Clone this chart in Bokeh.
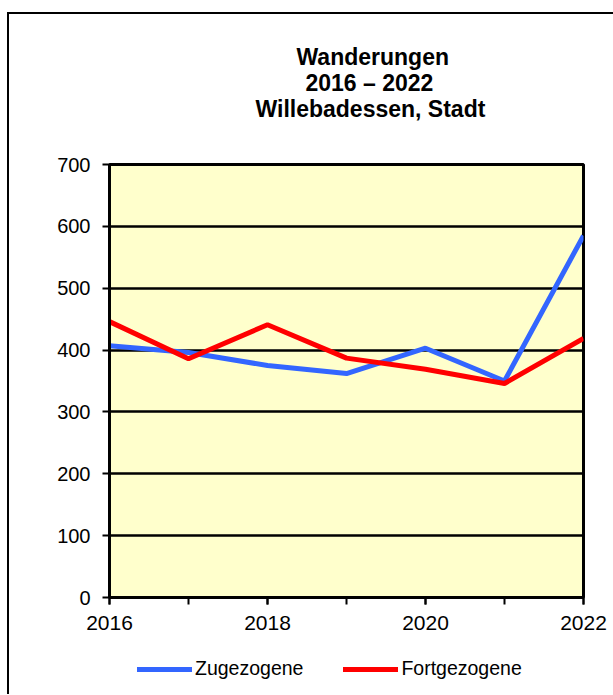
from bokeh.plotting import figure
from bokeh.layouts import column
from bokeh.models import Title, Legend, LegendItem, FixedTicker, Range1d
from bokeh.embed import file_html
from bokeh.resources import INLINE

# ---- data ----
years = [2016, 2017, 2018, 2019, 2020, 2021, 2022]
zugezogene = [407, 396, 375, 362, 403, 350, 585]
fortgezogene = [446, 386, 441, 387, 369, 346, 419]
x_label_ticks = [2016, 2018, 2020, 2022]
y_ticks = [0, 100, 200, 300, 400, 500, 600, 700]
series_names = ["Zugezogene", "Fortgezogene"]
title_lines = ["Wanderungen", "2016 – 2022", "Willebadessen, Stadt"]

FONT = "Liberation Sans"
BLUE = "#3366FF"
RED = "#FF0000"

p = figure(width=604, height=630, output_backend="svg", toolbar_location=None,
           x_range=Range1d(2016, 2022), y_range=Range1d(0, 700),
           min_border_left=100, min_border_right=30, min_border_top=150,
           min_border_bottom=47,
           background_fill_color="#FFFFCC", border_fill_color="white")

# ---- titles (stack outward from the frame: spacer, line3, line2, line1) ----
spacer = Title(text=" ", text_font_size="22px", standoff=17)
p.add_layout(spacer, "above")
t3 = Title(text=title_lines[2], offset=146)
p.add_layout(t3, "above")
t2 = Title(text=title_lines[1], offset=196)
p.add_layout(t2, "above")
p.title.text = title_lines[0]
p.title.offset = 187
for t in [t3, t2, p.title]:
    t.align = "left"
    t.text_font = FONT
    t.text_font_size = "23px"
    t.text_font_style = "bold"
    t.text_color = "black"
    t.standoff = -2.5

p.outline_line_color = "black"
p.outline_line_width = 3

# ---- axes ----
p.yaxis.ticker = FixedTicker(ticks=y_ticks)
p.yaxis.axis_line_width = 3
p.yaxis.axis_line_color = "black"
p.yaxis.major_tick_out = 7
p.yaxis.major_tick_in = 0
p.yaxis.major_tick_line_width = 2
p.yaxis.major_tick_line_color = "black"
p.yaxis.minor_tick_line_color = None
p.yaxis.major_label_standoff = 12
p.yaxis.major_label_text_font = FONT
p.yaxis.major_label_text_font_size = "20px"
p.yaxis.major_label_text_color = "black"

p.xaxis.ticker = FixedTicker(ticks=x_label_ticks, minor_ticks=years)
p.xaxis.axis_line_width = 3
p.xaxis.axis_line_color = "black"
p.xaxis.major_tick_out = 7
p.xaxis.major_tick_in = 0
p.xaxis.major_tick_line_width = 2
p.xaxis.major_tick_line_color = "black"
p.xaxis.minor_tick_out = 7
p.xaxis.minor_tick_in = 0
p.xaxis.minor_tick_line_width = 2
p.xaxis.minor_tick_line_color = "black"
p.xaxis.major_label_standoff = 11
p.xaxis.major_label_text_font = FONT
p.xaxis.major_label_text_font_size = "21px"
p.xaxis.major_label_text_color = "black"

p.xgrid.grid_line_color = None
p.ygrid.grid_line_color = "black"
p.ygrid.grid_line_width = 2.5
p.ygrid.ticker = FixedTicker(ticks=y_ticks)

p.line(years, zugezogene, line_color=BLUE, line_width=5)
p.line(years, fortgezogene, line_color=RED, line_width=5)

# ---- legend strip below (its series lie outside this strip's ranges) ----
pl = figure(width=604, height=50, output_backend="svg", toolbar_location=None,
            x_range=Range1d(0, 1), y_range=Range1d(0, 1),
            x_axis_location=None, y_axis_location=None, min_border=0,
            background_fill_color="white", border_fill_color="white")
pl.outline_line_color = None
pl.grid.visible = False
lr1 = pl.line(years, zugezogene, line_color=BLUE, line_width=5, line_cap="round")
lr2 = pl.line(years, fortgezogene, line_color=RED, line_width=5, line_cap="round")
legend = Legend(items=[LegendItem(label=series_names[0], renderers=[lr1]),
                       LegendItem(label=series_names[1], renderers=[lr2])],
                orientation="horizontal", location=(28, 14),
                glyph_width=55, glyph_height=22, label_standoff=3, spacing=40,
                border_line_color=None, background_fill_alpha=0,
                label_text_font=FONT, label_text_font_size="19.5px",
                label_text_color="black", padding=0, margin=0)
pl.add_layout(legend, "center")

layout = column(p, pl, spacing=0,
                styles={"border-left": "2px solid black",
                        "border-top": "2px solid black",
                        "margin-left": "7px", "margin-top": "12px"})

open("out.html", "w").write(file_html(layout, INLINE))
